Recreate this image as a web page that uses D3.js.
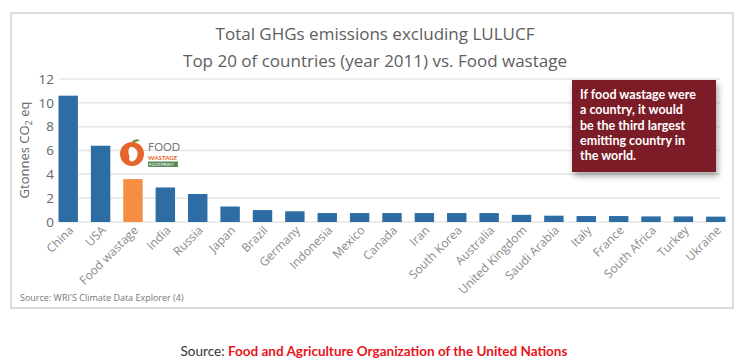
<!DOCTYPE html>
<html>
<head>
<meta charset="utf-8">
<script src="https://cdn.jsdelivr.net/npm/d3@7"></script>
<style>
  body { margin: 0; background: #fff; }
  svg text { font-family: "Open Sans", "Noto Sans", sans-serif; }
</style>
</head>
<body>
<svg id="chart" width="750" height="361"></svg>
<script>
var countries = ['China', 'USA', 'Food wastage', 'India', 'Russia', 'Japan', 'Brazil', 'Germany',
    'Indonesia', 'Mexico', 'Canada', 'Iran', 'South Korea', 'Australia', 'United Kingdom',
    'Saudi Arabia', 'Italy', 'France', 'South Africa', 'Turkey', 'Ukraine'];
var emissions = [10.6, 6.4, 3.6, 2.9, 2.35, 1.3, 1.0, 0.9,
    0.75, 0.75, 0.75, 0.75, 0.75, 0.75, 0.6,
    0.53, 0.5, 0.5, 0.47, 0.47, 0.45];
var yTicks = [0, 2, 4, 6, 8, 10, 12];
var titleLines = ['Total GHGs emissions excluding LULUCF', 'Top 20 of countries (year 2011) vs. Food wastage'];
var noteLines = ['If food wastage were', 'a country, it would', 'be the third largest', 'emitting country in', 'the world.'];

var svg = d3.select('#chart');
var data = countries.map(function (c, i) { return { name: c, value: emissions[i] }; });

// frame
svg.append('rect')
    .attr('x', 11).attr('y', 13).attr('width', 722).attr('height', 295)
    .attr('fill', '#fff').attr('stroke', '#dcdcdc').attr('stroke-width', 2);

svg.selectAll('.title').data(titleLines).enter().append('text')
    .attr('x', 375).attr('y', function (d, i) { return 40 + i * 27; })
    .attr('text-anchor', 'middle')
    .attr('font-size', 17).attr('fill', '#5e5e5e')
    .text(function (d) { return d; });

var x = d3.scaleBand().domain(countries).range([58.5, 725.5]).paddingInner(0.4).paddingOuter(0);
var y = d3.scaleLinear().domain([0, 12]).range([222, 79]);

// grid
svg.append('g').selectAll('line').data(yTicks).enter().append('line')
    .attr('x1', 60).attr('x2', 720)
    .attr('y1', function (d) { return y(d); }).attr('y2', function (d) { return y(d); })
    .attr('stroke', '#e6e6e6').attr('stroke-width', 1.5);

var yAxis = svg.append('g').attr('transform', 'translate(54,0)')
    .call(d3.axisLeft(y).tickValues(yTicks).tickSize(0).tickPadding(0));
yAxis.select('.domain').remove();
yAxis.selectAll('text').attr('font-size', 13.5).attr('fill', '#666')
    .style('font-family', '"Open Sans", sans-serif');

var yLabel = svg.append('text')
    .attr('transform', 'translate(29,150) rotate(-90)')
    .attr('text-anchor', 'middle').attr('font-size', 13).attr('fill', '#666');
yLabel.append('tspan').text('Gtonnes CO');
yLabel.append('tspan').attr('font-size', 9).attr('dy', 3).text('2');
yLabel.append('tspan').attr('dy', -3).text(' eq');

svg.append('g').selectAll('rect').data(data).enter().append('rect')
    .attr('x', function (d) { return x(d.name); })
    .attr('width', x.bandwidth())
    .attr('y', function (d) { return y(d.value); })
    .attr('height', function (d) { return y(0) - y(d.value); })
    .attr('fill', function (d) { return d.name === 'Food wastage' ? '#f58d42' : '#2e6da4'; });

var xAxis = svg.append('g').attr('transform', 'translate(0,' + y(0) + ')')
    .call(d3.axisBottom(x).tickSize(0).tickPadding(0));
xAxis.select('.domain').remove();
xAxis.selectAll('text')
    .attr('font-size', 12).attr('fill', '#8a8a8a')
    .attr('text-anchor', 'end')
    .attr('dy', 0)
    .attr('transform', 'translate(6,9) rotate(-45)')
    .style('font-family', '"Open Sans", sans-serif');

svg.append('text').attr('x', 20).attr('y', 301)
    .attr('font-size', 9).attr('fill', '#777')
    .text("Source: WRI'S Climate Data Explorer (4)");

// food wastage footprint logo
var logo = svg.append('g').attr('transform', 'translate(132,154)');
logo.append('path').attr('d', 'M-1,-11 C2,-16 6,-15 8,-14 C5,-12 2,-11 -1,-11Z').attr('fill', '#6a9a3a');
logo.append('circle').attr('r', 12).attr('fill', '#e8642a');
logo.append('path').attr('d', 'M-2,-7 C4,-8 7,-2 5,3 C3,8 -2,9 -3,5 C-1,2 -6,-1 -2,-7Z').attr('fill', '#fff');
logo.append('text').attr('x', 16).attr('y', -3).attr('font-size', 11).attr('fill', '#7a7a7a')
    .style('font-family', 'Lato, sans-serif').text('FOOD');
logo.append('text').attr('x', 16).attr('y', 5.5).attr('font-size', 6.2).attr('font-weight', 'bold')
    .attr('fill', '#e8642a').style('font-family', 'Lato, sans-serif').text('WASTAGE');
logo.append('rect').attr('x', 16).attr('y', 7.5).attr('width', 30).attr('height', 5.5).attr('fill', '#5b8a5a');
logo.append('text').attr('x', 17).attr('y', 12).attr('font-size', 4.4).attr('fill', '#fff')
    .style('font-family', 'Lato, sans-serif').text('FOOTPRINT');

// note box
var defs = svg.append('defs');
var shadow = defs.append('filter').attr('id', 'shadow').attr('x', '-20%').attr('y', '-20%')
    .attr('width', '140%').attr('height', '150%');
shadow.append('feDropShadow').attr('dx', 2).attr('dy', 4).attr('stdDeviation', 3)
    .attr('flood-color', '#000').attr('flood-opacity', 0.35);

svg.append('rect').attr('x', 572).attr('y', 80).attr('width', 144).attr('height', 92)
    .attr('fill', '#7b1f28').attr('filter', 'url(#shadow)');
svg.selectAll('.note').data(noteLines).enter().append('text')
    .attr('x', 580).attr('y', function (d, i) { return 99 + i * 15.3; })
    .attr('font-size', 12.5).attr('font-weight', 'bold').attr('fill', '#fff')
    .style('font-family', 'Lato, sans-serif')
    .text(function (d) { return d; });

// caption
var cap = svg.append('text').attr('x', 374).attr('y', 356).attr('text-anchor', 'middle')
    .attr('font-size', 13.5).style('font-family', 'Lato, sans-serif');
cap.append('tspan').attr('fill', '#333').text('Source: ');
cap.append('tspan').attr('fill', '#e8141c').attr('font-weight', 'bold')
    .text('Food and Agriculture Organization of the United Nations');
</script>
</body>
</html>
